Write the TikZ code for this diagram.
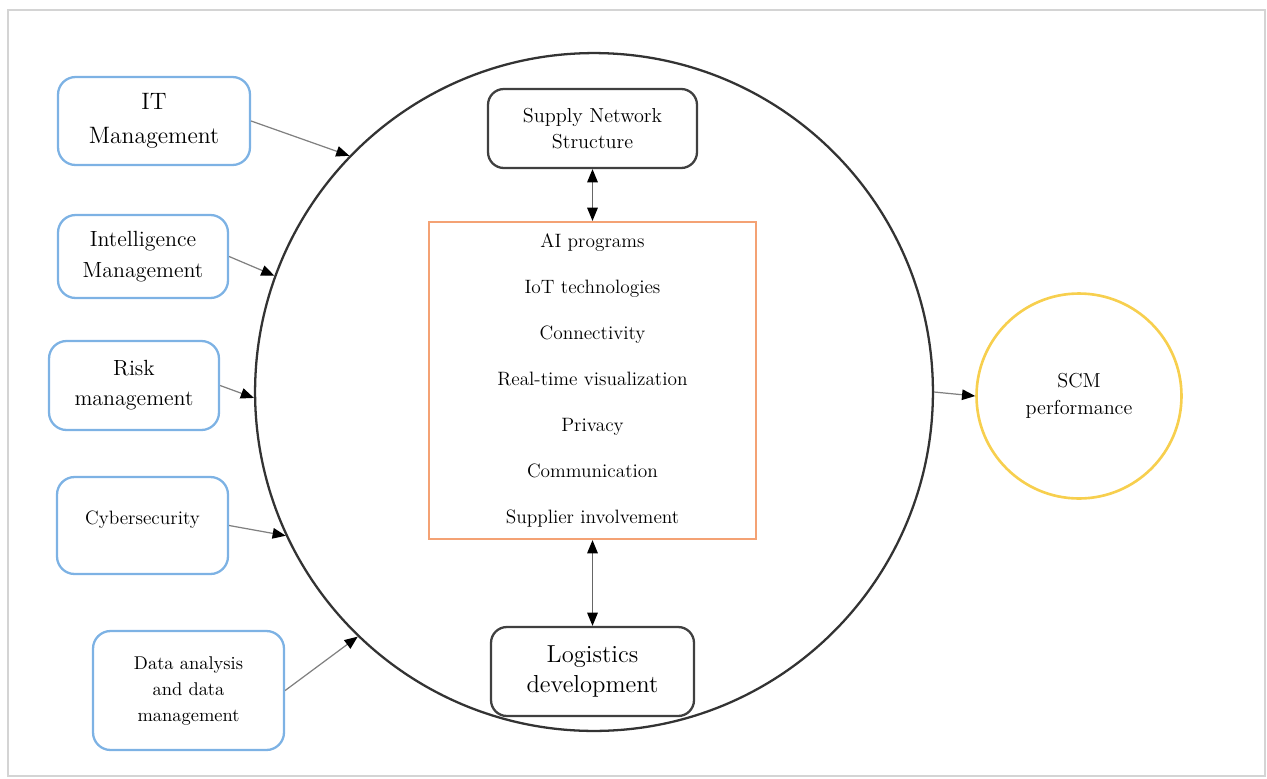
\documentclass[tikz,border=0pt]{standalone}
\usetikzlibrary{arrows.meta, positioning}

\definecolor{boxblue}{HTML}{7DB2E4}
\definecolor{techorange}{HTML}{F4A274}
\definecolor{scmyellow}{HTML}{F7CF4E}
\definecolor{framegray}{HTML}{D4D4D4}

\tikzset{
  leftbox/.style={draw=boxblue, line width=1.3pt, rounded corners=10pt, align=center, inner sep=0pt},
  corebox/.style={draw=black!75, line width=1.3pt, rounded corners=9pt, align=center, inner sep=0pt},
  feed/.style={draw=black!50, line width=0.7pt, -{Triangle[length=7.5pt, width=6pt, black]}},
  link/.style={draw=black!60, line width=0.7pt, {Triangle[length=7.5pt, width=6pt, black]}-{Triangle[length=7.5pt, width=6pt, black]}}
}

\begin{document}
\begin{tikzpicture}[x=0.02cm, y=-0.02cm]
\useasboundingbox (0,0) rectangle (1267,778);
\draw[framegray, line width=1.2pt] (8,10) rectangle (1265,776);

% outer ring and outcome
\node[circle, draw=black!80, line width=1.3pt, minimum size=13.56cm, inner sep=0pt] (core) at (594,392) {};
\node[circle, draw=scmyellow, line width=1.5pt, minimum size=4.1cm, inner sep=0pt, align=center,
      font=\fontsize{11.5}{15}\selectfont] (scm) at (1079,396) {SCM\\performance};

% left factors
\node[leftbox, minimum width=3.84cm, minimum height=1.76cm, font=\fontsize{13.5}{19}\selectfont] (itm) at (154,121) {IT\\Management};
\node[leftbox, minimum width=3.4cm, minimum height=1.66cm, font=\fontsize{12.5}{17.5}\selectfont] (intm) at (143,256.5) {Intelligence\\Management};
\node[leftbox, minimum width=3.4cm, minimum height=1.78cm, font=\fontsize{12.5}{17}\selectfont] (risk) at (134,385.5) {Risk\\management};
\node[leftbox, minimum width=3.42cm, minimum height=1.94cm, font=\fontsize{11}{14}\selectfont] (cyber) at (142.5,525.5) {\raisebox{9pt}{Cybersecurity}};
\node[leftbox, minimum width=3.82cm, minimum height=2.38cm, font=\fontsize{10.5}{14.8}\selectfont] (data) at (188.5,690.5) {Data analysis\\and data\\management};

% inside the ring
\node[corebox, minimum width=4.18cm, minimum height=1.58cm, font=\fontsize{11.5}{14.8}\selectfont] (supply) at (592.5,128.5) {Supply Network\\Structure};
\node[draw=techorange, line width=1.3pt, minimum width=6.54cm, minimum height=6.34cm, align=center, inner sep=0pt,
      font=\fontsize{11}{26.2}\selectfont] (tech) at (592.5,380.5)
  {AI programs\\IoT technologies\\Connectivity\\Real-time visualization\\Privacy\\Communication\\Supplier involvement};
\node[corebox, minimum width=4.06cm, minimum height=1.78cm, font=\fontsize{14}{17.6}\selectfont] (logi) at (592.5,671.5) {Logistics\\development};

\draw[feed] (itm.east) -- (core.136);
\draw[feed] (intm.east) -- (core.160);
\draw[feed] (risk.east) -- (core.181);
\draw[feed] (cyber.east) -- (core.205);
\draw[feed] (data.east) -- (core.226);
\draw[feed] (core.0) -- (scm.180);

\draw[link] (supply.south) -- (tech.north);
\draw[link] (tech.south) -- (logi.north);
\end{tikzpicture}
\end{document}
